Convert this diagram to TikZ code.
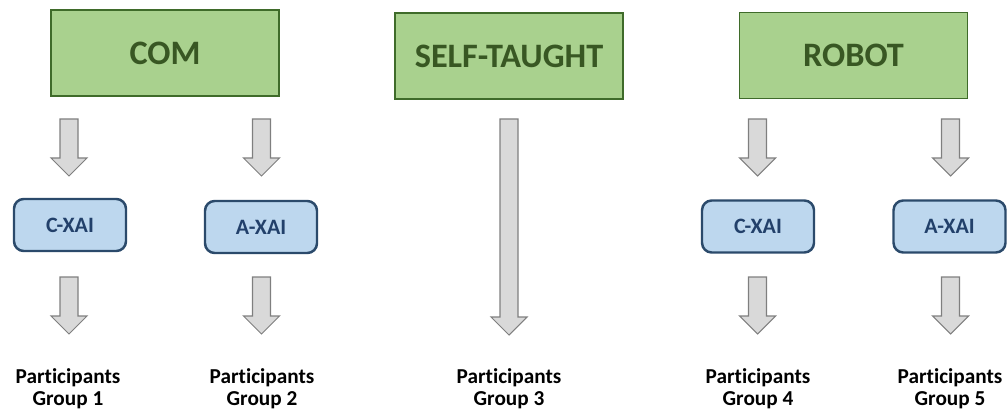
\documentclass[tikz,border=0pt]{standalone}
\usepackage{fontspec}
\setmainfont{Carlito}[Ligatures={NoCommon}]
\usepackage{xcolor}
\usepackage{tikz}
\usetikzlibrary{positioning, calc}
\definecolor{condgreen}{HTML}{A9D18E}
\definecolor{condborder}{HTML}{3F6B2A}
\definecolor{condtext}{HTML}{385723}
\definecolor{xaiblue}{HTML}{BDD7EE}
\definecolor{xaiborder}{HTML}{2B4A6B}
\definecolor{xaitext}{HTML}{22406A}
\definecolor{arrfill}{HTML}{D9D9D9}
\definecolor{arrgray}{HTML}{7F7F7F}

% block arrow pointing down, from top coordinate #1 to tip coordinate #2
\newcommand{\blockarrow}[2]{%
  \draw[blockarr] ($(#1)+(-9,0)$) -- ($(#1)+(9,0)$) -- ($(#2)+(9,-18)$) -- ($(#2)+(18,-18)$)
    -- (#2) -- ($(#2)+(-18,-18)$) -- ($(#2)+(-9,-18)$) -- cycle;}

\begin{document}
\begin{tikzpicture}[x=0.02cm, y=-0.02cm,
    condnode/.style={rectangle, draw=condborder, fill=condgreen, line width=1.1pt, minimum width=4.56cm, minimum height=1.72cm, font=\fontsize{19.5}{22}\selectfont\bfseries, text=condtext},
    xainode/.style={rectangle, rounded corners=5.5pt, draw=xaiborder, fill=xaiblue, line width=1.4pt, minimum width=2.24cm, minimum height=1.04cm, font=\fontsize{12.5}{14}\selectfont\bfseries, text=xaitext},
    groupnode/.style={align=center, font=\fontsize{12.1}{12.6}\selectfont\bfseries},
    blockarr/.style={draw=arrgray, fill=arrfill, line width=0.6pt, line join=miter}
]
    \useasboundingbox (0,0) rectangle (1008,412);

    % Conditions (top row)
    \node (com) [condnode] at (165,53) {COM};
    \node (self) [condnode] at (509,56) {SELF-TAUGHT};
    \node (robot) [condnode] at (853.5,55.5) {ROBOT};

    % Explanation types
    \node (cxai1) [xainode] at (70,225) {C-XAI};
    \node (axai1) [xainode] at (261,227) {A-XAI};
    \node (cxai2) [xainode] at (758,226.5) {C-XAI};
    \node (axai2) [xainode] at (949.5,226.5) {A-XAI};

    % Participant groups
    \node (grp1) [groupnode] at (68,389) {Participants\\Group 1};
    \node (grp2) [groupnode] at (262,389) {Participants\\Group 2};
    \node (grp3) [groupnode] at (509,389) {Participants\\Group 3};
    \node (grp4) [groupnode] at (758,389) {Participants\\Group 4};
    \node (grp5) [groupnode] at (950,389) {Participants\\Group 5};

    % Arrow end points
    \coordinate (a1s) at (69,119);    \coordinate (a1e) at (69,176);
    \coordinate (a2s) at (261.5,119); \coordinate (a2e) at (261.5,176);
    \coordinate (a3s) at (757.5,119); \coordinate (a3e) at (757.5,176);
    \coordinate (a4s) at (950.5,119); \coordinate (a4e) at (950.5,176);
    \coordinate (b1s) at (69,277);    \coordinate (b1e) at (69,334);
    \coordinate (b2s) at (261.5,277); \coordinate (b2e) at (261.5,334);
    \coordinate (b3s) at (757.5,277); \coordinate (b3e) at (757.5,334);
    \coordinate (b4s) at (950.5,277); \coordinate (b4e) at (950.5,334);
    \coordinate (m1s) at (509,119);   \coordinate (m1e) at (509,335);

    % Arrows
    \blockarrow{a1s}{a1e}
    \blockarrow{a2s}{a2e}
    \blockarrow{a3s}{a3e}
    \blockarrow{a4s}{a4e}
    \blockarrow{b1s}{b1e}
    \blockarrow{b2s}{b2e}
    \blockarrow{b3s}{b3e}
    \blockarrow{b4s}{b4e}
    \blockarrow{m1s}{m1e}
\end{tikzpicture}
\end{document}
